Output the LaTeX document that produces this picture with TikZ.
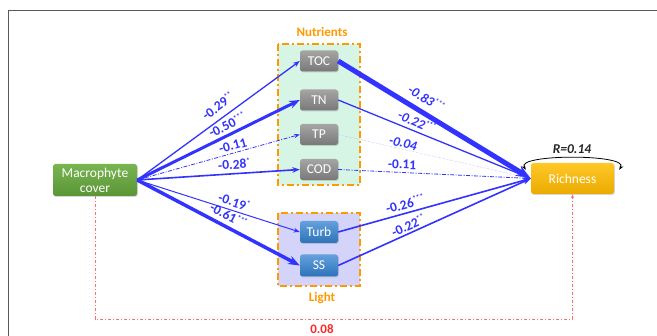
\documentclass[tikz,border=0pt]{standalone}
\usepackage{fontspec}
\setmainfont{Carlito}
\usetikzlibrary{arrows.meta,shadows}
\definecolor{arrowblue}{RGB}{51,51,255}
\definecolor{grporange}{RGB}{255,153,0}
\definecolor{mint}{RGB}{214,245,228}
\definecolor{lav}{RGB}{212,212,250}
\definecolor{greytop}{RGB}{165,165,165}
\definecolor{greybot}{RGB}{120,120,120}
\definecolor{bluetop}{RGB}{100,160,220}
\definecolor{bluebot}{RGB}{45,115,185}
\definecolor{greentop}{RGB}{120,180,80}
\definecolor{greenbot}{RGB}{90,150,55}
\definecolor{goldtop}{RGB}{255,200,40}
\definecolor{goldbot}{RGB}{235,170,0}
\definecolor{directred}{RGB}{255,40,40}
\definecolor{pinkline}{RGB}{255,110,110}
\newcommand{\sigst}[1]{\raisebox{0.75ex}{\fontsize{7.5}{7.5}\selectfont #1}}
\begin{document}
\begin{tikzpicture}[x=1pt,y=-1pt,
  box/.style={rounded corners=2.5pt, text=white, align=center, inner sep=0pt,
    font=\fontsize{13.5}{15}\selectfont,
    drop shadow={shadow xshift=0.8pt, shadow yshift=-0.9pt, opacity=0.3}},
  nutbox/.style={box, top color=greytop, bottom color=greybot, minimum width=38pt, minimum height=21pt},
  litbox/.style={box, top color=bluetop, bottom color=bluebot, minimum width=38pt, minimum height=22pt},
  grp/.style={draw=grporange, line width=1.8pt, dash pattern=on 7pt off 3pt on 2pt off 3pt},
  grplab/.style={text=grporange, font=\fontsize{13}{14}\selectfont\bfseries},
  path/.style={draw=arrowblue, line width=#1, -{Stealth[length=4pt 2.2]}},
  dd/.style={draw=arrowblue, line width=#1, dash pattern=on 4pt off 1.5pt on 1pt off 1.5pt, -{Stealth[length=4pt 2.2]}},
  lab/.style={text=arrowblue, font=\fontsize{13.5}{14}\selectfont\bfseries, sloped, above=#1, inner sep=0.3pt},
  lab/.default=1pt,
  itlab/.style={font=\fontsize{13.5}{14}\selectfont\bfseries\itshape}
]
\useasboundingbox (0,0) rectangle (657,336);
\fill[white] (0,0) rectangle (657,336);
\draw[gray!70!black, line width=1pt] (8,336) -- (8,11) -- (657,11);

% groups
\path[grp, fill=mint] (278,44) rectangle (360,185);
\path[grp, fill=lav] (278,213) rectangle (360,286);
\node[grplab] (nutlab) at (322,32) {Nutrients};
\node[grplab] (litlab) at (322,298) {Light};

% nodes
\node[box, top color=greentop, bottom color=greenbot, minimum width=84pt, minimum height=32pt] (mac) at (95,180) {Macrophyte\\cover};
\node[nutbox] (toc) at (319,61) {TOC};
\node[nutbox] (tn) at (319,100) {TN};
\node[nutbox] (tp) at (319,134.5) {TP};
\node[nutbox] (cod) at (319,169.5) {COD};
\node[litbox] (turb) at (319,232) {Turb};
\node[litbox] (ss) at (319,265.5) {SS};
\node[box, top color=goldtop, bottom color=goldbot, minimum width=83pt, minimum height=31pt] (rich) at (572.5,178.5) {Richness};

% left paths
\draw[path=1.3pt] (mac.east) -- node[lab=6pt, pos=0.54] {-0.29\sigst{**}} (toc.west);
\draw[path=3pt] (mac.east) -- node[lab=3pt, pos=0.58] {-0.50\sigst{***}} (tn.west);
\draw[dd=0.8pt] (mac.east) -- node[lab=2pt, pos=0.6] {-0.11} (tp.west);
\draw[path=1.6pt] (mac.east) -- node[lab=3.5pt, pos=0.6] {-0.28\sigst{*}} (cod.west);
\draw[path=1pt] (mac.east) -- node[lab=3pt, pos=0.58] {-0.19\sigst{*}} (turb.west);
\draw[path=3.5pt] (mac.east) -- node[lab=4pt, pos=0.53] {-0.61\sigst{***}} (ss.west);

% right paths
\draw[path=5pt] (toc.east) -- node[lab=6pt, pos=0.42, itlab] {-0.83\sigst{***}} (rich.west);
\draw[path=1.3pt] (tn.east) -- node[lab=3.5pt, pos=0.39, itlab] {-0.22\sigst{***}} (rich.west);
\draw[draw=arrowblue!50, line width=0.4pt, densely dotted] (tp.east) -- node[lab=1pt, pos=0.33, itlab] {-0.04} (rich.west);
\draw[dd=0.8pt] (cod.east) -- node[lab=3pt, pos=0.33] {-0.11} (rich.west);
\draw[path=1.6pt] (turb.east) -- node[lab=3pt, pos=0.36] {-0.26\sigst{***}} (rich.west);
\draw[path=1.6pt] (ss.east) -- node[lab=1.5pt, pos=0.38] {-0.22\sigst{**}} (rich.west);

% residual loop
\draw[black, line width=0.8pt, {Stealth[length=5pt]}-{Stealth[length=5pt]}] ([xshift=-5pt,yshift=-7pt]rich.north west) .. controls +(-10,-16) and +(10,-16) .. ([xshift=5pt,yshift=-7pt]rich.north east);
\node[font=\fontsize{13.5}{14}\selectfont\bfseries\itshape, text=black!85] (rlab) at (572,149) {R=0.14};

% direct effect
\coordinate (bl) at (95,319);
\coordinate (br) at (572.5,319);
\draw[draw=pinkline, line width=0.8pt, dash pattern=on 3pt off 2pt on 1pt off 2pt, -{Stealth[length=4pt]}] (mac.south) -- (bl) -- (br) -- (rich.south);
\node[text=directred, font=\fontsize{13}{14}\selectfont\bfseries] (dlab) at (322,329) {0.08};
\end{tikzpicture}
\end{document}
